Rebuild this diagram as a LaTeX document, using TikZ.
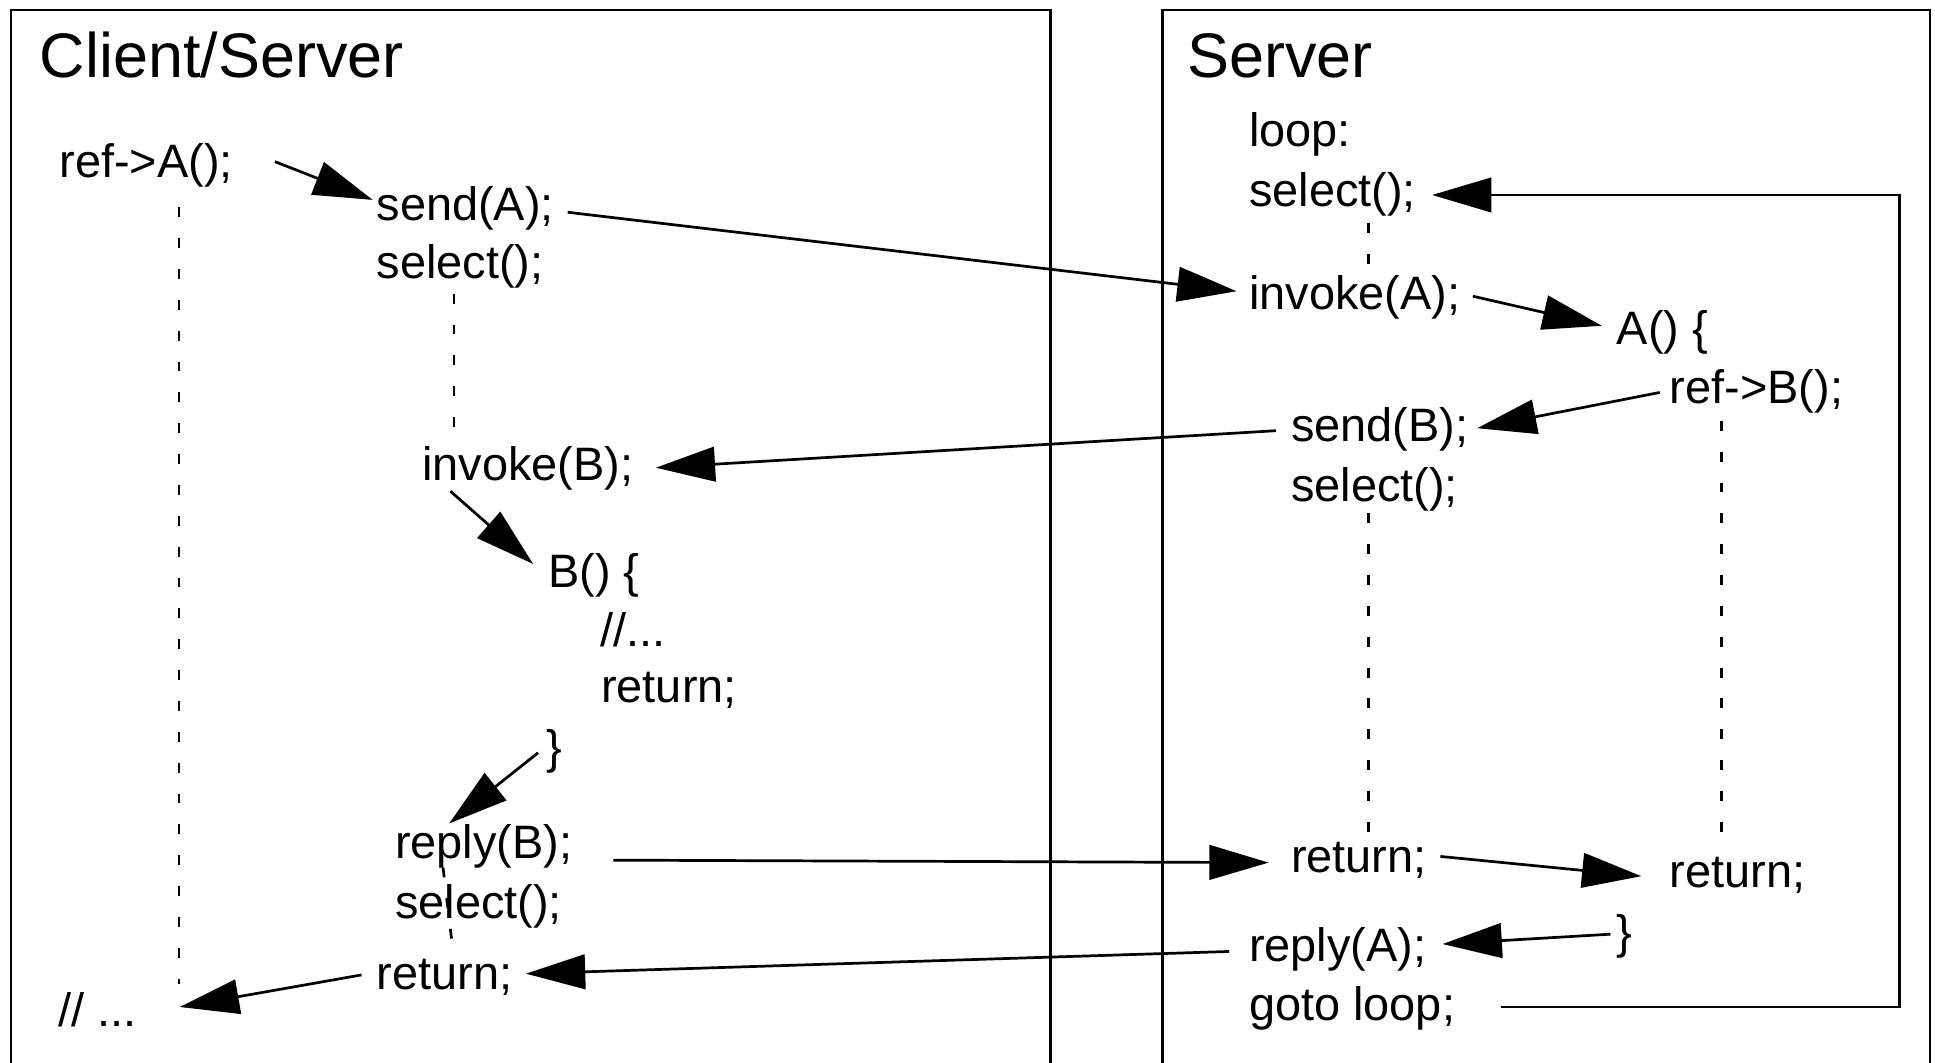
\documentclass[tikz,border=0pt]{standalone}
\usepackage{fontspec}
\setmainfont{Liberation Sans}
\usetikzlibrary{arrows.meta,calc}
\begin{document}
\begin{tikzpicture}[x=1pt,y=-1pt,
  code/.style={anchor=base west,inner sep=0pt,font=\fontsize{38}{46}\selectfont},
  ttl/.style={anchor=base west,inner sep=0pt,font=\fontsize{51}{60}\selectfont},
  box/.style={line width=2.2pt},
  arr/.style={line width=2.2pt,-{Triangle[length=48pt,width=28pt]}},
  life/.style={line width=2.2pt,dash pattern=on 8pt off 17pt}]
\useasboundingbox (0,0) rectangle (1568,861);
% frames
\draw[box] (9,861) -- (9,8) -- (851,8) -- (851,861);
\draw[box] (942,861) -- (942,8) -- (1564,8) -- (1564,861);
% titles
\node[ttl] (tL) at (32,63) {Client/Server};
\node[ttl] (tR) at (962,63) {Server};
% client/server column
\node[code] (refA) at (48,144) {ref->A();};
\node[code] (sendA) at (305,179) {send(A);};
\node[code] (selL1) at (305,226) {select();};
\node[code] (invB) at (342,389) {invoke(B);};
\node[code] (Bopen) at (444,476) {B() \{};
\node[code] (cmt) at (486,524) {//...};
\node[code] (retB) at (487,569) {return;};
\node[code] (closeB) at (443,619) {\}};
\node[code] (replyB) at (320,696) {reply(B);};
\node[code] (selL2) at (320,744) {select();};
\node[code] (retL) at (305,802) {return;};
\node[code] (dots) at (47,832) {// ...};
% server column
\node[code] (loop) at (1012,119) {loop:};
\node[code] (selR1) at (1012,167) {select();};
\node[code] (invA) at (1012,251) {invoke(A);};
\node[code] (Aopen) at (1310,279) {A() \{};
\node[code] (refB) at (1353,327) {ref->B();};
\node[code] (sendB) at (1046,358) {send(B);};
\node[code] (selR2) at (1046,406) {select();};
\node[code] (retR1) at (1046,707) {return;};
\node[code] (retR2) at (1353,719) {return;};
\node[code] (closeA) at (1310,769) {\}};
\node[code] (replyA) at (1012,779) {reply(A);};
\node[code] (goto) at (1012,827) {goto loop;};
% lifelines
\draw[life] ($(refA.base west)+(97,24)$) -- ($(dots.base west)+(98,-35)$);
\draw[life] ($(selL1.base west)+(63,12)$) -- ($(invB.base west)+(26,-31)$);
\draw[life] ($(replyB.base west)+(39,7)$) -- ($(retL.base west)+(62,-32)$);
\draw[life] ($(selR1.base west)+(97,14)$) -- ($(invA.base west)+(97,-35)$);
\draw[life] ($(selR2.base west)+(63,10)$) -- ($(retR1.base west)+(63,-32)$);
\draw[life] ($(refB.base west)+(42,14)$) -- ($(retR2.base west)+(42,-36)$);
% arrows
\draw[arr] ($(refA.base east)+(34,-13)$) -- ($(sendA.base west)+(-3,-17)$);
\draw[arr] ($(sendA.base east)+(11,-7)$) -- ($(invA.base west)+(-10,-15)$);
\draw[arr] ($(invA.base east)+(10,-11)$) -- ($(Aopen.base west)+(-12,-15)$);
\draw[arr] ($(refB.base west)+(-8,-9)$) -- ($(sendB.base east)+(7,-11)$);
\draw[arr] ($(sendB.base west)+(-12,-9)$) -- ($(invB.base east)+(18,-10)$);
\draw[arr] ($(invB.south west)+(23,1)$) -- ($(Bopen.base west)+(-12,-19)$);
\draw[arr] ($(closeB.base west)+(-7,-9)$) -- ($(replyB.north west)+(44,-1)$);
\draw[arr] ($(replyB.base east)+(33,1)$) -- ($(retR1.base west)+(-18,-8)$);
\draw[arr] ($(retR1.base east)+(11,-13)$) -- ($(retR2.base west)+(-23,-9)$);
\draw[arr] ($(closeA.base west)+(-5,-12)$) -- ($(replyA.base east)+(13,-14)$);
\draw[arr] ($(replyA.base west)+(-16,-8)$) -- ($(retL.base east)+(11,-13)$);
\draw[arr] ($(retL.base west)+(-12,-12)$) -- ($(dots.base east)+(35,-16)$);
% loop back
\coordinate (gs) at ($(goto.base east)+(37,-11)$);
\coordinate (st) at ($(selR1.base east)+(13,-9)$);
\coordinate (rx) at (1539,0);
\draw[arr] (gs) -- (gs -| rx) -- (st -| rx) -- (st);
\end{tikzpicture}
\end{document}
